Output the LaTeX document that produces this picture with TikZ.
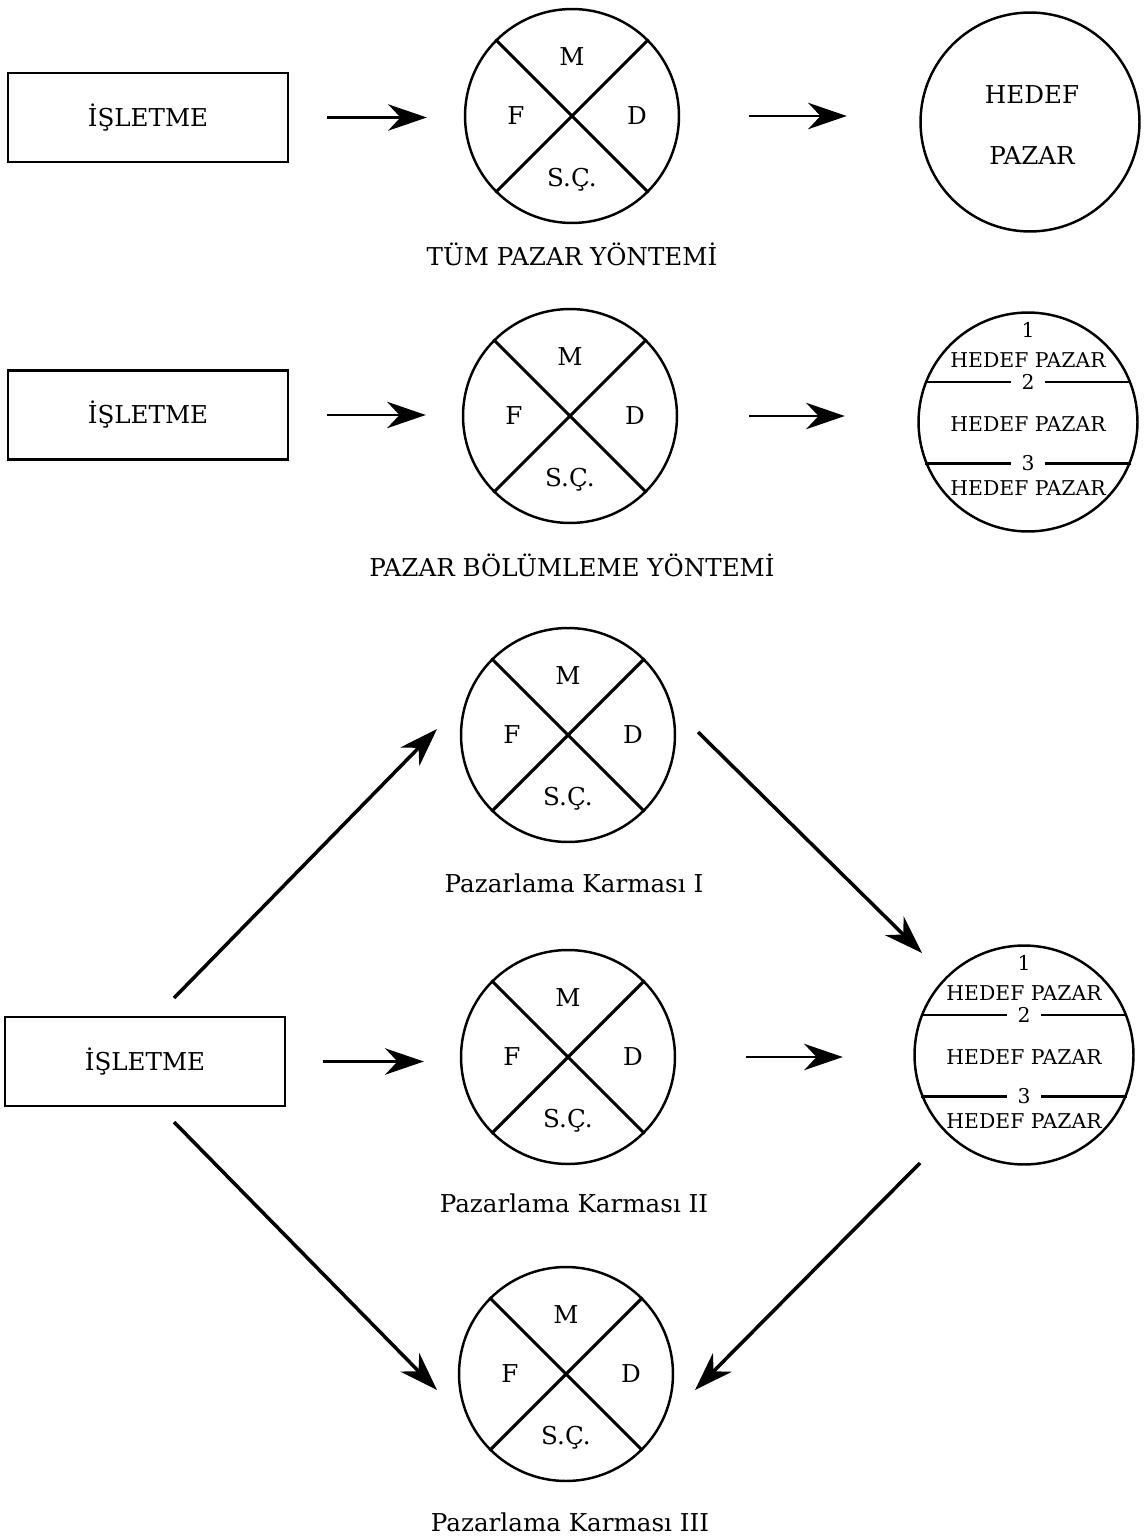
\documentclass[tikz,border=0pt]{standalone}
\usepackage{fontspec}
\setmainfont{DejaVu Serif}
\usetikzlibrary{arrows.meta,calc}

% a marketing-mix circle: name, centre
\newcommand{\karmacircle}[2]{%
  \node[mix] (#1) at (#2) {};
  \draw[cross] (#1.45) -- (#1.225);
  \draw[cross] (#1.135) -- (#1.315);
  \node[lbl] (#1-m) at ([shift={(0,-59)}]#1.center) {M};
  \node[lbl] (#1-f) at ([shift={(-56,0)}]#1.center) {F};
  \node[lbl] (#1-d) at ([shift={(65,0)}]#1.center) {D};
  \node[lbl] (#1-s) at ([shift={(0,64)}]#1.center) {S.Ç.};
}

% a segmented target-market circle: name, centre
\newcommand{\segmentcircle}[2]{%
  \node[market] (#1) at (#2) {};
  \draw[chord] (#1.159) -- (#1.21);
  \draw[chord] (#1.-158) -- (#1.-22);
  \node[small] (#1-n1) at ([shift={(0,-92)}]#1.center) {1};
  \node[small] (#1-h1) at ([shift={(0,-62)}]#1.center) {HEDEF PAZAR};
  \node[num] (#1-n2) at ($(#1.159)!0.5!(#1.21)$) {2};
  \node[small] (#1-h2) at ([shift={(0,2)}]#1.center) {HEDEF PAZAR};
  \node[num] (#1-n3) at ($(#1.-158)!0.5!(#1.-22)$) {3};
  \node[small] (#1-h3) at ([shift={(0,66)}]#1.center) {HEDEF PAZAR};
}

\begin{document}
\begin{tikzpicture}[x=0.02cm,y=-0.02cm,
  firm/.style={draw,rectangle,line width=1.5pt,minimum width=5.6cm,minimum height=1.78cm,
    font=\fontsize{14}{16}\selectfont},
  mix/.style={draw,circle,line width=1.4pt,minimum size=4.28cm,inner sep=0pt},
  market/.style={draw,circle,line width=1.4pt,minimum size=4.38cm,inner sep=0pt},
  lbl/.style={font=\fontsize{14}{16}\selectfont,inner sep=1pt},
  small/.style={font=\fontsize{11.6}{13}\selectfont,inner sep=1pt},
  num/.style={small,fill=white,inner xsep=6pt},
  chord/.style={line width=1.3pt},
  cross/.style={line width=1.8pt},
  arr/.style={line width=1.6pt,-{Stealth[length=22pt,width=15pt,inset=7pt]}},
  darr/.style={arr,line width=2pt}]

\useasboundingbox (0,0) rectangle (1148,1537);

% --- whole market approach
\node[firm] (box1) at (148,117.5) {İŞLETME};
\karmacircle{mix1}{572,116}
\node[market] (goal1) at (1030,122) {};
\node[lbl] (goal1-a) at (1032,95) {HEDEF};
\node[lbl] (goal1-b) at (1032,156) {PAZAR};
\node[lbl] (cap1) at (572,254) {TÜM PAZAR YÖNTEMİ};
\draw[arr,shorten <=0.76cm,shorten >=0.74cm] (box1.east) -- (box1.east -| mix1.west);
\draw[arr,shorten <=1.38cm,shorten >=1.45cm] (mix1.east) -- (mix1.east -| goal1.west);

% --- segmentation approach
\node[firm] (box2) at (148,415) {İŞLETME};
\karmacircle{mix2}{570,416}
\segmentcircle{goal2}{1028,422}
\node[lbl] (cap2) at (572,565) {PAZAR BÖLÜMLEME YÖNTEMİ};
\draw[arr,shorten <=0.76cm,shorten >=0.72cm] (box2.east) -- (box2.east -| mix2.west);
\draw[arr,shorten <=1.42cm,shorten >=1.45cm] (mix2.east) -- (mix2.east -| goal2.west);

% --- several marketing mixes
\node[firm] (box3) at (145,1061.5) {İŞLETME};
\karmacircle{mixA}{568,735}
\karmacircle{mixB}{568,1057}
\karmacircle{mixC}{566,1374}
\segmentcircle{goal3}{1024,1055}
\node[lbl] (capA) at (574,883) {Pazarlama Karması I};
\node[lbl] (capB) at (574,1203) {Pazarlama Karması II};
\node[lbl] (capC) at (570,1522) {Pazarlama Karması III};

\draw[arr,shorten <=0.74cm,shorten >=0.72cm] (box3.east) -- (box3.east -| mixB.west);
\draw[arr,shorten <=1.40cm,shorten >=1.41cm] (mixB.east) -- (mixB.east -| goal3.west);

\coordinate (dA1) at (174,998);
\coordinate (dA2) at (437,729);
\coordinate (dB1) at (698,732);
\coordinate (dB2) at (922,953);
\coordinate (dC1) at (174,1122);
\coordinate (dC2) at (437,1390);
\coordinate (dD1) at (920,1163);
\coordinate (dD2) at (695,1390);
\draw[darr] (dA1) -- (dA2);
\draw[darr] (dB1) -- (dB2);
\draw[darr] (dC1) -- (dC2);
\draw[darr] (dD1) -- (dD2);
\end{tikzpicture}
\end{document}
